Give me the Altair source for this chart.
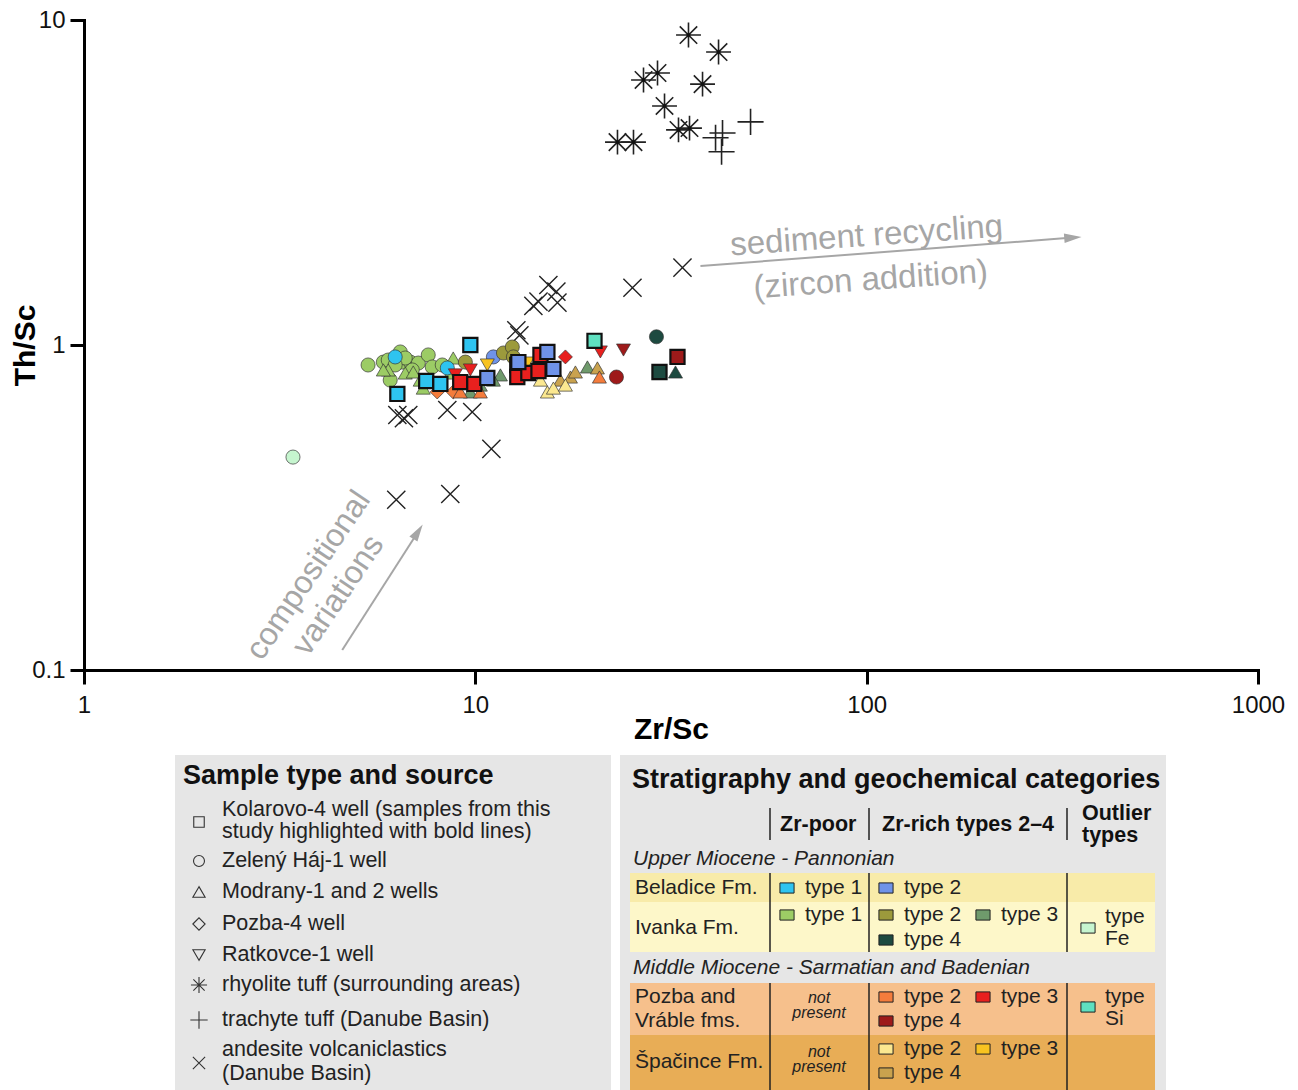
import altair as alt
import pandas as pd

FONT = "Liberation Sans"

# ---------------- data: tephra samples ----------------
well_keys = ["Kolarovo-4", "Zelený Háj-1", "Modrany", "Pozba-4", "Ratkovce-1"]
well_shapes = ["square", "circle", "triangle-up", "diamond", "triangle-down"]
well_sizes = [200, 195, 260, 240, 260]

cat_keys = ["B1", "B2", "I1", "I2", "I3", "I4", "IFe", "P2", "P3", "P4", "PSi", "S2", "S3", "S4"]
cat_colors = ["#2ec4f0", "#6f93e8", "#9ccc65", "#9c9a3c", "#6f9a6c", "#1d4a40", "#c6f5cf",
              "#f47c3c", "#e8201e", "#9e1a1a", "#5fe0c0", "#fbe890", "#f8c320", "#c9a24e"]

# (well, category, Zr/Sc values, Th/Sc values)
groups = [
    ("Zelený Háj-1", "I1", [5.32, 5.82, 5.99, 6.43, 6.51, 6.82, 7.15, 7.58, 7.76, 6.90, 6.06, 8.23, 6.62, 6.24],
     [0.868, 0.886, 0.899, 0.952, 0.886, 0.886, 0.880, 0.932, 0.856, 0.838, 0.780, 0.868, 0.912, 0.868]),
    ("Modrany", "I1", [5.99, 6.62, 6.94, 7.36, 8.78, 8.63, 7.23, 5.82],
     [0.838, 0.820, 0.826, 0.737, 0.912, 0.820, 0.780, 0.838]),
    ("Zelený Háj-1", "IFe", [3.42], [0.452]),
    ("Zelený Háj-1", "B1", [6.24, 8.48], [0.919, 0.850]),
    ("Zelený Háj-1", "B2", [11.12], [0.919]),
    ("Zelený Háj-1", "I2", [9.43, 11.80, 12.43, 12.51], [0.886, 0.945, 0.986, 0.919]),
    ("Ratkovce-1", "S3", [10.73, 13.58], [0.868, 0.880]),
    ("Pozba-4", "P3", [16.99], [0.919]),
    ("Pozba-4", "P2", [7.99, 8.78], [0.717, 0.717]),
    ("Ratkovce-1", "P3", [20.87, 8.89, 9.71], [0.952, 0.809, 0.838]),
    ("Ratkovce-1", "P4", [23.91], [0.965]),
    ("Zelený Háj-1", "P4", [22.94], [0.797]),
    ("Zelený Háj-1", "I4", [29.03], [1.06]),
    ("Modrany", "I4", [32.47], [0.826]),
    ("Modrany", "I3", [19.34, 10.30, 11.59, 11.12, 9.71], [0.856, 0.753, 0.809, 0.780, 0.717]),
    ("Modrany", "S4", [20.51, 17.50, 16.50, 18.02], [0.850, 0.797, 0.780, 0.826]),
    ("Modrany", "S2", [15.28, 15.83, 16.99, 14.67], [0.717, 0.737, 0.753, 0.780]),
    ("Modrany", "P2", [20.75, 10.30, 9.15], [0.797, 0.717, 0.717]),
    ("Kolarovo-4", "B1", [9.71, 6.32, 7.49, 8.14], [1.0, 0.707, 0.775, 0.759]),
    ("Kolarovo-4", "P3", [9.15, 9.94, 12.80, 12.80, 13.66, 14.50, 14.67],
     [0.769, 0.759, 0.868, 0.797, 0.820, 0.832, 0.932]),
    ("Kolarovo-4", "B2", [10.73, 12.88, 15.28, 15.83], [0.792, 0.886, 0.952, 0.844]),
    ("Kolarovo-4", "P4", [32.85], [0.919]),
    ("Kolarovo-4", "I4", [29.55], [0.826]),
    ("Kolarovo-4", "PSi", [20.16], [1.03]),
]

rhyolite_zr = [35.05, 41.83, 29.21, 26.90, 38.07, 30.44, 33.05, 35.26, 23.08, 25.36]
rhyolite_th = [8.99, 7.97, 6.87, 6.54, 6.35, 5.44, 4.59, 4.65, 4.21, 4.21]
trachyte_zr = [50.50, 42.82, 41.10, 42.58]
trachyte_th = [4.86, 4.49, 4.34, 3.93]
andesite_zr = [33.83, 25.21, 15.37, 16.11, 14.07, 14.50, 16.21, 12.73, 12.96,
               6.32, 6.57, 6.74, 8.48, 9.82, 10.99, 6.28, 8.63]
andesite_th = [1.73, 1.50, 1.53, 1.46, 1.32, 1.36, 1.35, 1.11, 1.07,
               0.609, 0.595, 0.609, 0.631, 0.622, 0.479, 0.334, 0.348]

rows = []
for w, c, xs, ys in groups:
    for a, b in zip(xs, ys):
        rows.append({"zr": a, "th": b, "well": w, "cat": c})
teph = pd.DataFrame(rows)
teph_other = teph[teph.well != "Kolarovo-4"]
teph_kol = teph[teph.well == "Kolarovo-4"]

ASTER = "M0,-1L0,1M-1,0L1,0M-0.7,-0.7L0.7,0.7M-0.7,0.7L0.7,-0.7"
PLUS = "M0,-1L0,1M-1,0L1,0"
CROSS = "M-1,-1L1,1M-1,1L1,-1"

W_PLOT, H_PLOT = 1174, 650

xenc = alt.X("zr:Q", scale=alt.Scale(type="log", domain=[1, 1000]),
             axis=alt.Axis(values=[1, 10, 100, 1000], format="~g", title="Zr/Sc"))
yenc = alt.Y("th:Q", scale=alt.Scale(type="log", domain=[0.1, 10]),
             axis=alt.Axis(values=[0.1, 1, 10], format="~g", title="Th/Sc"))
fill_enc = alt.Fill("cat:N", scale=alt.Scale(domain=cat_keys, range=cat_colors), legend=None)
shape_enc = alt.Shape("well:N", scale=alt.Scale(domain=well_keys, range=well_shapes), legend=None)
size_enc = alt.Size("well:N", scale=alt.Scale(domain=well_keys, range=well_sizes), legend=None)

pts_other = alt.Chart(teph_other).mark_point(filled=True, stroke="#333333", strokeWidth=0.9,
                                              strokeOpacity=0.75, opacity=1).encode(
    x=xenc, y=yenc, fill=fill_enc, shape=shape_enc, size=size_enc)
pts_kol = alt.Chart(teph_kol).mark_point(filled=True, stroke="#111111", strokeWidth=2.2,
                                          opacity=1).encode(
    x=xenc, y=yenc, fill=fill_enc, shape=shape_enc, size=size_enc)

rhy = pd.DataFrame({"zr": rhyolite_zr, "th": rhyolite_th})
tra = pd.DataFrame({"zr": trachyte_zr, "th": trachyte_th})
ande = pd.DataFrame({"zr": andesite_zr, "th": andesite_th})

rhy_l = alt.Chart(rhy).mark_point(shape=ASTER, size=620, filled=False, stroke="#222222",
                                  strokeWidth=1.6, opacity=1).encode(x=xenc, y=yenc)
rhy_dot = alt.Chart(rhy).mark_point(shape="circle", size=14, filled=True, color="#111111",
                                    opacity=1).encode(x=xenc, y=yenc)
tra_l = alt.Chart(tra).mark_point(shape=PLUS, size=680, filled=False, stroke="#222222",
                                  strokeWidth=1.6, opacity=1).encode(x=xenc, y=yenc)
and_l = alt.Chart(ande).mark_point(shape=CROSS, size=330, filled=False, stroke="#222222",
                                   strokeWidth=1.4, opacity=1).encode(x=xenc, y=yenc)

# annotations (data coordinates)
GRAY = "#a6a6a6"
arrows = pd.DataFrame({"zr": [37.6, 4.57], "th": [1.75, 0.1152],
                       "zr2": [336.5, 7.14], "th2": [2.14, 0.2664]})
arrow_l = alt.Chart(arrows).mark_rule(color=GRAY, strokeWidth=2).encode(
    x=xenc, y=yenc, x2="zr2:Q", y2="th2:Q")
HEAD = "M0,-1L0.55,1L-0.55,1Z"
head1 = alt.Chart(pd.DataFrame({"zr": [336.5], "th": [2.14]})).mark_point(
    shape=HEAD, size=300, filled=True, color=GRAY, opacity=1, angle=85.6).encode(x=xenc, y=yenc)
head2 = alt.Chart(pd.DataFrame({"zr": [7.14], "th": [0.2664]})).mark_point(
    shape=HEAD, size=300, filled=True, color=GRAY, opacity=1, angle=32.6).encode(x=xenc, y=yenc)

txt1 = alt.Chart(pd.DataFrame({"zr": [100.0, 102.4], "th": [2.165, 1.585],
                               "t": ["sediment recycling", "(zircon addition)"]})).mark_text(
    font=FONT, fontSize=33, color=GRAY, angle=356, align="center", baseline="middle").encode(
    x=xenc, y=yenc, text="t:N")
txt2 = alt.Chart(pd.DataFrame({"zr": [3.74, 4.46], "th": [0.196, 0.170],
                               "t": ["compositional", "variations"]})).mark_text(
    font=FONT, fontSize=32, color=GRAY, angle=304, align="center", baseline="middle").encode(
    x=xenc, y=yenc, text="t:N")

scatter = alt.layer(arrow_l, head1, head2, txt1, txt2, and_l, rhy_l, rhy_dot, tra_l,
                    pts_other, pts_kol).properties(width=W_PLOT, height=H_PLOT)

# ---------------- legend panel 1: sample type and source ----------------
L1W, L1H = 436, 335
lx = alt.X("x:Q", scale=alt.Scale(domain=[0, L1W]), axis=None)
ly = alt.Y("y:Q", scale=alt.Scale(domain=[0, L1H], reverse=True), axis=None)

leg1_labels = ["Kolarovo-4 well (samples from this", "study highlighted with bold lines)",
               "Zelený Háj-1 well", "Modrany-1 and 2 wells", "Pozba-4 well", "Ratkovce-1 well",
               "rhyolite tuff (surrounding areas)", "trachyte tuff (Danube Basin)",
               "andesite volcaniclastics", "(Danube Basin)"]
leg1_label_y = [55, 77, 106, 137, 169, 200, 230, 265, 295, 319]
leg1_sym_shapes = ["square", "circle", "triangle-up", "diamond", "triangle-down", ASTER, PLUS, CROSS]
leg1_sym_y = [67, 106, 137, 169, 200, 230, 265, 308]
leg1_sym_size = [110, 120, 150, 150, 150, 260, 300, 150]

l1_bg_title = alt.Chart(pd.DataFrame({"x": [8], "y": [21], "t": ["Sample type and source"]})).mark_text(
    font=FONT, fontSize=27, fontWeight="bold", color="#111111", align="left", baseline="middle").encode(
    x=lx, y=ly, text="t:N")
l1_text = alt.Chart(pd.DataFrame({"x": [47] * len(leg1_labels), "y": leg1_label_y, "t": leg1_labels})).mark_text(
    font=FONT, fontSize=21.5, color="#222222", align="left", baseline="middle").encode(
    x=lx, y=ly, text="t:N")
l1_syms = []
for shp, yy, sz in zip(leg1_sym_shapes, leg1_sym_y, leg1_sym_size):
    l1_syms.append(alt.Chart(pd.DataFrame({"x": [24], "y": [yy]})).mark_point(
        shape=shp, size=sz, filled=False, stroke="#333333", strokeWidth=1.1, opacity=1).encode(x=lx, y=ly))
legend1 = alt.layer(l1_bg_title, l1_text, *l1_syms).properties(
    width=L1W, height=L1H, view=alt.ViewBackground(fill="#e6e6e6", stroke=None))

# ---------------- legend panel 2: stratigraphy and categories ----------------
L2W, L2H = 546, 335
mx = alt.X("x:Q", scale=alt.Scale(domain=[0, L2W]), axis=None)
my = alt.Y("y:Q", scale=alt.Scale(domain=[0, L2H], reverse=True), axis=None)

band_colors = ["#f8eba9", "#fdf7c9", "#f6c08c", "#e8ad56"]
bands = pd.DataFrame({"x": [10] * 4, "x2": [535] * 4, "y": [118, 147, 228, 280],
                      "y2": [147, 197, 280, 335], "c": band_colors})
l2_bands = alt.Chart(bands).mark_rect().encode(x=mx, x2="x2:Q", y=my, y2="y2:Q",
                                               fill=alt.Fill("c:N", scale=None))
seps = pd.DataFrame({"x": [150, 249, 447] * 3, "y": [53] * 3 + [118] * 3 + [228] * 3,
                     "y2": [85] * 3 + [197] * 3 + [335] * 3})
l2_seps = alt.Chart(seps).mark_rule(color="#222222", strokeWidth=1.5).encode(x=mx, y=my, y2="y2:Q")

l2_title = alt.Chart(pd.DataFrame({"x": [12], "y": [25],
                                   "t": ["Stratigraphy and geochemical categories"]})).mark_text(
    font=FONT, fontSize=27, fontWeight="bold", color="#111111", align="left", baseline="middle").encode(
    x=mx, y=my, text="t:N")
l2_head = alt.Chart(pd.DataFrame({"x": [160, 262, 462, 462], "y": [70, 70, 59, 81],
                                  "t": ["Zr-poor", "Zr-rich types 2–4", "Outlier", "types"]})).mark_text(
    font=FONT, fontSize=21.5, fontWeight="bold", color="#111111", align="left", baseline="middle").encode(
    x=mx, y=my, text="t:N")
l2_ital = alt.Chart(pd.DataFrame({"x": [13, 13], "y": [104, 213],
                                  "t": ["Upper Miocene - Pannonian",
                                        "Middle Miocene - Sarmatian and Badenian"]})).mark_text(
    font=FONT, fontSize=21, fontStyle="italic", color="#222222", align="left", baseline="middle").encode(
    x=mx, y=my, text="t:N")
l2_np = alt.Chart(pd.DataFrame({"x": [199] * 4, "y": [243, 258, 297, 312],
                                "t": ["not", "present", "not", "present"]})).mark_text(
    font=FONT, fontSize=16, fontStyle="italic", color="#222222", align="center", baseline="middle").encode(
    x=mx, y=my, text="t:N")

fm_names = ["Beladice Fm.", "Ivanka Fm.", "Pozba and", "Vráble fms.", "Špačince Fm."]
fm_y = [133, 173, 242, 266, 307]
l2_fm = alt.Chart(pd.DataFrame({"x": [15] * 5, "y": fm_y, "t": fm_names})).mark_text(
    font=FONT, fontSize=21, color="#222222", align="left", baseline="middle").encode(
    x=mx, y=my, text="t:N")

sw_cat = ["B1", "B2", "I1", "I2", "I3", "I4", "IFe", "P2", "P3", "P4", "PSi", "S2", "S3", "S4"]
sw_x = [167, 266, 167, 266, 363, 266, 468, 266, 363, 266, 468, 266, 363, 266]
sw_y = [133, 133, 160, 160, 160, 185, 173, 242, 242, 266, 252, 294, 294, 318]
sw_lab = ["type 1", "type 2", "type 1", "type 2", "type 3", "type 4", "",
          "type 2", "type 3", "type 4", "", "type 2", "type 3", "type 4"]
SWATCH = "M-1,-0.72L1,-0.72L1,0.72L-1,0.72Z"
sw_df = pd.DataFrame({"x": sw_x, "y": sw_y, "cat": sw_cat})
l2_sw = alt.Chart(sw_df).mark_point(shape=SWATCH, size=200, filled=True, stroke="#222222",
                                    strokeWidth=1, opacity=1).encode(
    x=mx, y=my, fill=alt.Fill("cat:N", scale=alt.Scale(domain=cat_keys, range=cat_colors), legend=None))
lab_df = pd.DataFrame({"x": [v + 18 for v in sw_x] + [485, 485, 485, 485],
                       "y": sw_y + [162, 184, 242, 264],
                       "t": sw_lab + ["type", "Fe", "type", "Si"]})
l2_lab = alt.Chart(lab_df).mark_text(font=FONT, fontSize=21, color="#222222", align="left",
                                     baseline="middle").encode(x=mx, y=my, text="t:N")

legend2 = alt.layer(l2_bands, l2_seps, l2_title, l2_head, l2_ital, l2_np, l2_fm, l2_sw, l2_lab).properties(
    width=L2W, height=L2H, view=alt.ViewBackground(fill="#e6e6e6", stroke=None))

spacer = alt.Chart(pd.DataFrame({"a": [0]})).mark_point(opacity=0).properties(width=82, height=L1H)

bottom = alt.hconcat(spacer, legend1, legend2, spacing=9, bounds="flush")

chart = alt.vconcat(scatter, bottom, spacing=85, bounds="flush").properties(
    padding={"left": 2, "top": 0, "right": 0, "bottom": 0}
).configure_view(strokeWidth=0).configure_axis(
    grid=False, domainColor="#000000", domainWidth=3, domainCap="square",
    tickColor="#000000", tickWidth=3, tickSize=14, labelFont=FONT, labelFontSize=24,
    labelColor="#111111", labelPadding=5, titleFont=FONT, titleFontSize=30,
    titleFontWeight="bold", titleColor="#000000", labelFlush=False, labelOverlap=False
).configure_axisX(titlePadding=-3, labelPadding=9).configure_axisY(
    titleX=-59, titleY=325, titleAngle=270, titleAlign="center", titleBaseline="middle")

chart.save("out.html", embed_options={"renderer": "svg", "actions": False})
